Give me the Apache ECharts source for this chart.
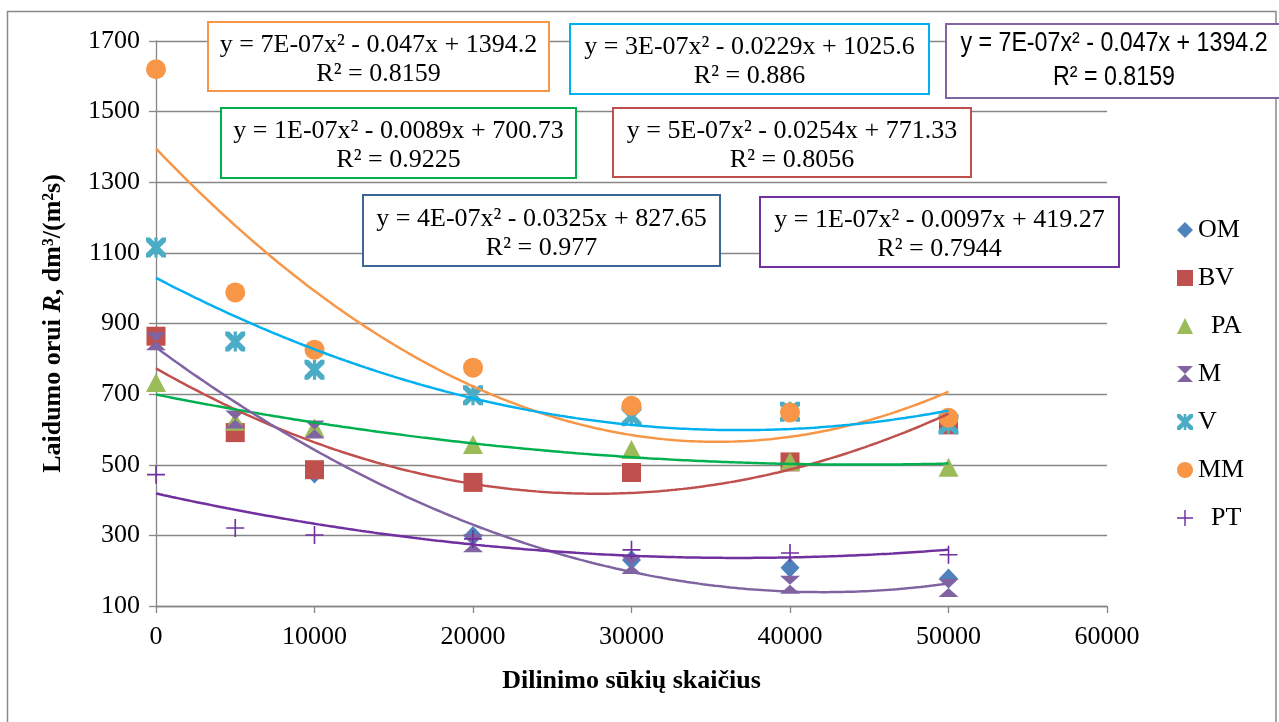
<!DOCTYPE html>
<html>
<head>
<meta charset="utf-8">
<script src="https://cdn.jsdelivr.net/npm/echarts@6/dist/echarts.min.js"></script>
<style>
  html, body { margin: 0; padding: 0; background: #fff; }
  #chart { width: 1279px; height: 722px; }
</style>
</head>
<body>
<div id="chart"></div>
<script>
// Number of grinding revolutions (x) and air permeability R (y) per sample
const xValues = [0, 5000, 10000, 20000, 30000, 40000, 50000];
const seriesNames = ['OM', 'BV', 'PA', 'M', 'V', 'MM', 'PT'];
const OM = [855, 610, 475, 298, 230, 208, 178];
const BV = [864, 591, 486, 450, 478, 508, 613];
const PA = [733, 623, 605, 557, 543, 509, 493];
const M  = [850, 628, 600, 278, 216, 160, 151];
const V  = [1115, 849, 769, 697, 637, 650, 615];
const MM = [1620, 988, 826, 775, 667, 648, 633];
const PT = [472, 321, 301, 290, 259, 250, 245];

// Trendline equation captions
const eqLines1 = [
  'y = 7E-07x² - 0.047x + 1394.2',
  'y = 3E-07x² - 0.0229x + 1025.6',
  'y = 7E-07x² - 0.047x + 1394.2',
  'y = 1E-07x² - 0.0089x + 700.73',
  'y = 5E-07x² - 0.0254x + 771.33',
  'y = 4E-07x² - 0.0325x + 827.65',
  'y = 1E-07x² - 0.0097x + 419.27'
];
const eqLines2 = [
  'R² = 0.8159', 'R² = 0.886', 'R² = 0.8159', 'R² = 0.9225',
  'R² = 0.8056', 'R² = 0.977', 'R² = 0.7944'
];

const yTicks = { min: 100, max: 1700, step: 200 };
const xTicks = { min: 0, max: 60000, step: 10000 };

// least-squares quadratic fit (x scaled to 1e4 units for stability)
function quadFit(xs, ys) {
  let S = [0, 0, 0, 0, 0], T = [0, 0, 0];
  xs.forEach((x, i) => {
    const t = x / 1e4;
    let p = 1;
    for (let k = 0; k < 5; k++) { S[k] += p; if (k < 3) T[k] += p * ys[i]; p *= t; }
  });
  const A = [[S[0], S[1], S[2], T[0]], [S[1], S[2], S[3], T[1]], [S[2], S[3], S[4], T[2]]];
  for (let i = 0; i < 3; i++) {
    for (let j = i + 1; j < 3; j++) {
      const f = A[j][i] / A[i][i];
      for (let k = i; k < 4; k++) A[j][k] -= f * A[i][k];
    }
  }
  const r = [0, 0, 0];
  for (let i = 2; i >= 0; i--) {
    let s = A[i][3];
    for (let k = i + 1; k < 3; k++) s -= A[i][k] * r[k];
    r[i] = s / A[i][i];
  }
  return t => r[0] + r[1] * t + r[2] * t * t;
}

function trendPoints(ys) {
  const f = quadFit(xValues, ys);
  const pts = [];
  const x0 = xValues[0], x1 = xValues[xValues.length - 1];
  for (let x = x0; x <= x1; x += 250) pts.push([x, f(x / 1e4)]);
  return pts;
}

const FONT = 'Liberation Serif';
const hourglass = 'path://M0,0 L10,0 L5,5 L10,10 L0,10 L5,5 Z';
const star = 'path://M0,0 L2,0 L10,8 L10,10 L8,10 L0,2 Z M10,0 L10,2 L2,10 L0,10 L0,8 L8,0 Z M4.2,0 L5.8,0 L5.8,10 L4.2,10 Z';
const plus = 'path://M4.55,0 L5.45,0 L5.45,4.55 L10,4.55 L10,5.45 L5.45,5.45 L5.45,10 L4.55,10 L4.55,5.45 L0,5.45 L0,4.55 L4.55,4.55 Z';

const markerStyle = {
  OM: { symbol: 'diamond', size: [19, 20], color: '#4F81BD' },
  BV: { symbol: 'rect', size: [19, 19], color: '#C0504D' },
  PA: { symbol: 'triangle', size: [20, 19], color: '#9BBB59' },
  M:  { symbol: hourglass, size: [20, 18], color: '#8064A2' },
  V:  { symbol: star, size: [20, 20], color: '#4BACC6' },
  MM: { symbol: 'circle', size: 20, color: '#F79646' },
  PT: { symbol: plus, size: [18, 18], color: '#7030A0' }
};
const valuesByName = { OM, BV, PA, M, V, MM, PT };

const scatterSeries = seriesNames.map(n => ({
  name: n,
  type: 'scatter',
  symbol: markerStyle[n].symbol,
  symbolSize: markerStyle[n].size,
  itemStyle: { color: markerStyle[n].color, opacity: 1 },
  data: xValues.map((x, i) => [x, valuesByName[n][i]]),
  z: 2
}));

const trendDefs = [
  { src: MM, color: '#F79646' },
  { src: V,  color: '#00B0F0' },
  { src: BV, color: '#C0504D' },
  { src: PA, color: '#00B050' },
  { src: M,  color: '#8064A2' },
  { src: PT, color: '#7030A0' }
];
const trendSeries = trendDefs.map((t, i) => ({
  name: 'trend' + i,
  type: 'line',
  data: trendPoints(t.src),
  showSymbol: false,
  symbol: 'none',
  smooth: false,
  lineStyle: { color: t.color, width: 2.5 },
  z: 4,
  silent: true
}));

// equation boxes: [x, y, w, h, border colour, serif?]
const boxGeom = [
  [208, 22, 341, 69, '#F79646', true],
  [570, 24, 359, 70, '#00B0F0', true],
  [946, 24, 336, 74, '#8064A2', false],
  [221, 108, 355, 70, '#00B050', true],
  [613, 108, 358, 69, '#C0504D', true],
  [363, 195, 357, 71, '#3D6597', true],
  [760, 197, 359, 70, '#7030A0', true]
];
const boxElements = [];
boxGeom.forEach((g, i) => {
  const [x, y, w, h, col, serif] = g;
  boxElements.push({
    type: 'rect', z: 100,
    shape: { x: x, y: y, width: w, height: h },
    style: { fill: '#fff', stroke: col, lineWidth: 2 }
  });
  boxElements.push({
    type: 'text', z: 101,
    x: x + w / 2, y: y + h / 2 + (serif ? 3 : 0),
    scaleX: serif ? 1 : 0.86,
    style: {
      text: eqLines1[i] + '\n' + eqLines2[i],
      fill: '#000',
      fontSize: serif ? 26 : 27,
      fontFamily: serif ? FONT : 'Liberation Sans',
      align: 'center', verticalAlign: 'middle',
      lineHeight: serif ? 29 : 34
    }
  });
});

const plainNumber = v => String(v);

const chart = echarts.init(document.getElementById('chart'), null, { renderer: 'canvas' });
chart.setOption({
  animation: false,
  backgroundColor: '#fff',
  grid: { left: 156, right: 172, top: 41, bottom: 116 },
  xAxis: {
    type: 'value', min: xTicks.min, max: xTicks.max, interval: xTicks.step,
    name: 'Dilinimo sūkių skaičius',
    nameLocation: 'middle', nameGap: 62,
    nameTextStyle: { fontFamily: FONT, fontWeight: 'bold', fontSize: 26, color: '#000' },
    axisLine: { show: true, lineStyle: { color: '#868686', width: 1.3 } },
    axisTick: { show: true, length: 7, lineStyle: { color: '#868686', width: 1.3 } },
    axisLabel: { fontFamily: FONT, fontSize: 26, color: '#000', margin: 18, formatter: plainNumber },
    splitLine: { show: false }
  },
  yAxis: {
    type: 'value', min: yTicks.min, max: yTicks.max, interval: yTicks.step,
    name: '{b|Laidumo orui }{i|R}{b|, dm³/(m²s)}',
    nameLocation: 'middle', nameGap: 90, nameRotate: 90,
    nameTextStyle: {
      rich: {
        b: { fontFamily: FONT, fontWeight: 'bold', fontSize: 26, color: '#000' },
        i: { fontFamily: FONT, fontWeight: 'bold', fontStyle: 'italic', fontSize: 26, color: '#000' }
      }
    },
    axisLine: { show: true, lineStyle: { color: '#868686', width: 1.3 } },
    axisTick: { show: true, length: 7, lineStyle: { color: '#868686', width: 1.3 } },
    axisLabel: { fontFamily: FONT, fontSize: 26, color: '#000', margin: 16, formatter: plainNumber },
    splitLine: { show: true, lineStyle: { color: '#868686', width: 1.4 } }
  },
  legend: {
    data: seriesNames,
    orient: 'vertical',
    left: 1172, top: 212,
    itemWidth: 16, itemHeight: 16, itemGap: 22,
    formatter: n => (n === 'PA' || n === 'PT') ? '  ' + n : n,
    textStyle: { fontFamily: FONT, fontSize: 26, color: '#000', lineHeight: 26 }
  },
  graphic: {
    elements: [
      {
        type: 'rect', z: 100, silent: true,
        shape: { x: 7.5, y: 11.5, width: 1268.5, height: 730 },
        style: { fill: null, stroke: '#8A8A8A', lineWidth: 1.5 }
      }
    ].concat(boxElements)
  },
  series: scatterSeries.concat(trendSeries)
});
</script>
</body>
</html>
